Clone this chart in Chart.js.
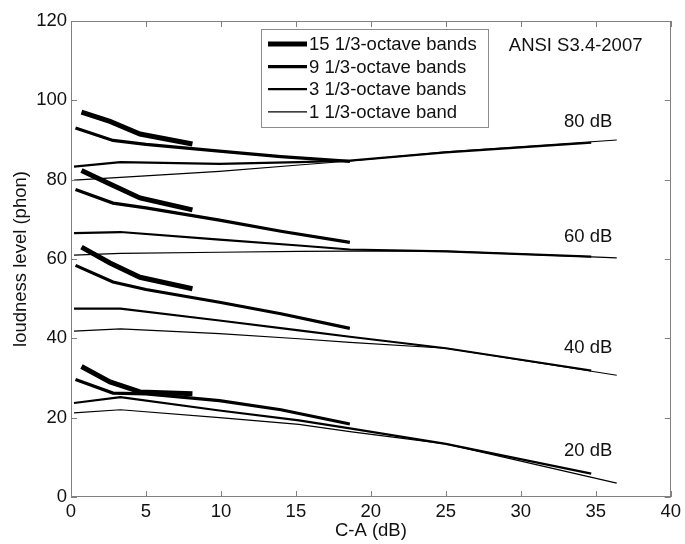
<!DOCTYPE html>
<html>
<head>
<meta charset="utf-8">
<script src="https://cdn.jsdelivr.net/npm/chart.js@4"></script>
<style>
html, body { margin: 0; padding: 0; background: #fff; }
#wrap { width: 685px; height: 544px; }
</style>
</head>
<body>
<div id="wrap"><canvas id="loudChart"></canvas></div>
<script>
const bandLabels = ['15 1/3-octave bands', '9 1/3-octave bands', '3 1/3-octave bands', '1 1/3-octave band'];
const bandWidths = [5, 3.2, 2.2, 1.2];
const levelLabels = ['20 dB', '40 dB', '60 dB', '80 dB'];
const levelLabelX = [34.5, 34.5, 34.5, 34.5];
const levelLabelY = [11.6, 37.6, 65.5, 94.5];
const standardLabel = 'ANSI S3.4-2007';

// C-A (dB) for each band count
const x15 = [0.7, 2.6, 4.6, 8.1];
const x9 = [0.3, 2.8, 5, 9.9, 14, 18.6];
const x3 = [0.2, 3.3, 9.9, 15.2, 18.6, 25, 34.7];
const x1 = [0.2, 3.3, 9.9, 15.2, 18.6, 25, 36.4];

// loudness level (phon), rows = 20, 40, 60, 80 dB
const y15 = [
    [32.9, 29.0, 26.5, 26.0],
    [63.0, 59.0, 55.4, 52.5],
    [82.3, 78.9, 75.4, 72.4],
    [97.0, 94.7, 91.5, 89.0]
];
const y9 = [
    [29.6, 26.2, 26.0, 24.3, 22.0, 18.4],
    [58.4, 54.2, 52.3, 49.1, 46.2, 42.5],
    [77.5, 74.1, 72.9, 69.8, 67.0, 64.2],
    [93.0, 89.9, 88.9, 87.2, 85.8, 84.6]
];
const y3 = [
    [23.7, 25.2, 21.8, 19.3, 17.3, 13.4, 5.9],
    [47.5, 47.5, 44.5, 42.0, 40.4, 37.5, 31.9],
    [66.5, 66.8, 64.9, 63.4, 62.4, 61.9, 60.6],
    [83.3, 84.4, 84.0, 84.4, 84.8, 86.9, 89.3]
];
const y1 = [
    [21.2, 22.0, 20.0, 18.3, 16.5, 13.4, 3.5],
    [41.8, 42.4, 41.2, 39.9, 39.0, 37.5, 30.7],
    [61.0, 61.4, 61.7, 61.9, 62.0, 62.0, 60.3],
    [79.9, 80.6, 82.1, 83.7, 84.7, 87.0, 90.0]
];

const FONT = '"Liberation Sans", Arial, sans-serif';
const FSIZE = 18.5;

const bandX = [x15, x9, x3, x1];
const bandY = [y15, y9, y3, y1];

const datasets = [];
for (let b = 0; b < bandX.length; b++) {
    for (let l = 0; l < levelLabels.length; l++) {
        datasets.push({
            label: bandLabels[b] + ' ' + levelLabels[l],
            data: bandX[b].map((v, i) => ({ x: v, y: bandY[b][l][i] })),
            showLine: true,
            borderColor: '#000',
            borderWidth: bandWidths[b],
            pointRadius: 0,
            tension: 0,
            fill: false
        });
    }
}

// box, inward ticks, legend and text labels (MATLAB style)
const framePlugin = {
    id: 'frame',
    afterDatasetsDraw(chart) {
        const ctx = chart.ctx;
        const a = chart.chartArea;
        const xs = chart.scales.x;
        const ys = chart.scales.y;
        ctx.save();

        ctx.strokeStyle = '#808080';
        ctx.lineWidth = 1;
        ctx.strokeRect(Math.round(a.left) + 0.5, Math.round(a.top) + 0.5,
            Math.round(a.width) - 1, Math.round(a.height) - 1);
        const tl = 6;
        ctx.beginPath();
        xs.ticks.forEach(t => {
            const px = Math.round(xs.getPixelForValue(t.value)) + 0.5;
            ctx.moveTo(px, a.bottom); ctx.lineTo(px, a.bottom - tl);
            ctx.moveTo(px, a.top); ctx.lineTo(px, a.top + tl);
        });
        ys.ticks.forEach(t => {
            const py = Math.round(ys.getPixelForValue(t.value)) + 0.5;
            ctx.moveTo(a.left, py); ctx.lineTo(a.left + tl, py);
            ctx.moveTo(a.right, py); ctx.lineTo(a.right - tl, py);
        });
        ctx.stroke();

        ctx.fillStyle = '#111';
        ctx.font = FSIZE + 'px ' + FONT;
        ctx.textBaseline = 'middle';
        ctx.textAlign = 'center';
        levelLabels.forEach((t, i) => {
            ctx.fillText(t, xs.getPixelForValue(levelLabelX[i]), ys.getPixelForValue(levelLabelY[i]));
        });
        ctx.textAlign = 'left';
        ctx.fillText(standardLabel, xs.getPixelForValue(29.2), ys.getPixelForValue(113.6));

        // legend
        const lx = 261, ly = 29, lw = 227, lh = 98;
        ctx.fillStyle = '#fff';
        ctx.fillRect(lx, ly, lw, lh);
        ctx.strokeStyle = '#8c8c8c';
        ctx.strokeRect(lx + 0.5, ly + 0.5, lw, lh);
        ctx.fillStyle = '#111';
        ctx.strokeStyle = '#000';
        bandLabels.forEach((t, i) => {
            const ry = 44 + i * 22.6;
            ctx.lineWidth = bandWidths[i];
            ctx.beginPath();
            ctx.moveTo(268, ry); ctx.lineTo(307, ry);
            ctx.stroke();
            ctx.fillText(t, 309, ry + 1);
        });
        ctx.restore();
    }
};

new Chart('loudChart', {
    type: 'scatter',
    data: { datasets: datasets },
    options: {
        responsive: true,
        maintainAspectRatio: false,
        animation: false,
        layout: { padding: { top: 21, right: 8, left: 0, bottom: 0 } },
        plugins: {
            legend: { display: false },
            tooltip: { enabled: false }
        },
        scales: {
            x: {
                type: 'linear',
                min: 0,
                max: 40,
                grid: { display: false, drawTicks: false },
                border: { display: false },
                ticks: { stepSize: 5, color: '#111', padding: 4, font: { size: FSIZE, family: FONT } },
                title: { display: true, text: 'C-A (dB)', color: '#111', padding: { top: 0, bottom: 2 }, font: { size: FSIZE, family: FONT } },
                afterFit(scale) { scale.height = 47; }
            },
            y: {
                type: 'linear',
                min: 0,
                max: 120,
                grid: { display: false, drawTicks: false },
                border: { display: false },
                ticks: { stepSize: 20, color: '#111', padding: 4, font: { size: FSIZE, family: FONT } },
                title: { display: true, text: 'loudness level (phon)', color: '#111', padding: { top: 10, bottom: 0 }, font: { size: FSIZE, family: FONT } },
                afterFit(scale) { scale.width = 71; }
            }
        }
    },
    plugins: [framePlugin]
});
</script>
</body>
</html>
